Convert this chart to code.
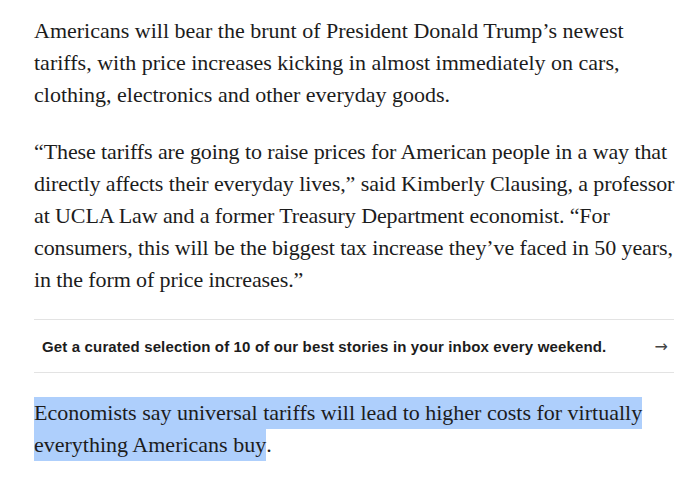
<!DOCTYPE html>
<html>
<head>
<meta charset="utf-8">
<script src="https://cdn.jsdelivr.net/npm/chart.js@4.4.1/dist/chart.umd.min.js"></script>
<style>
  html, body { margin: 0; padding: 0; background: #fff; }
  body { width: 698px; height: 481px; overflow: hidden; }
  .article { padding: 15px 0 0 34px; width: 640px; }
  .article p {
    font-family: "Liberation Serif", "DejaVu Serif", serif;
    font-size: 22px;
    line-height: 32px;
    color: #1c1c1c;
    margin: 0 0 25px 0;
    white-space: nowrap;
  }
  .article p.quote { letter-spacing: -0.1px; margin-bottom: 23px; }
  .signup {
    margin-top: 0;
    height: 52px;
    border-top: 1px solid #e3e3e3;
    border-bottom: 1px solid #e3e3e3;
    display: flex;
    align-items: center;
    justify-content: space-between;
    font-family: "Liberation Sans", Arial, sans-serif;
    font-weight: bold;
    font-size: 15px;
    letter-spacing: 0.15px;
    color: #1c1c1c;
    padding: 0 6px 0 8px;
  }
  .signup .arrow { font-family: "DejaVu Sans", sans-serif; font-weight: normal; font-size: 16px; color: #444; }
  .article p.last { margin-top: 24px; }
  .hl { display: inline-block; background: #aecffc; line-height: 32px; }
</style>
</head>
<body>
<div class="article" id="article"></div>
<script>
// article excerpt, one entry per rendered line
const para1Lines = [
    "Americans will bear the brunt of President Donald Trump\u2019s newest",
    "tariffs, with price increases kicking in almost immediately on cars,",
    "clothing, electronics and other everyday goods."
];
const para2Lines = [
    "\u201cThese tariffs are going to raise prices for American people in a way that",
    "directly affects their everyday lives,\u201d said Kimberly Clausing, a professor",
    "at UCLA Law and a former Treasury Department economist. \u201cFor",
    "consumers, this will be the biggest tax increase they\u2019ve faced in 50 years,",
    "in the form of price increases.\u201d"
];
const signupText = "Get a curated selection of 10 of our best stories in your inbox every weekend.";
const highlightLines = [
    "Economists say universal tariffs will lead to higher costs for virtually",
    "everything Americans buy"
];

const article = document.getElementById('article');

function addParagraph(lines, cls) {
    const p = document.createElement('p');
    if (cls) p.className = cls;
    lines.forEach((line, i) => {
        if (i > 0) p.appendChild(document.createElement('br'));
        p.appendChild(document.createTextNode(line));
    });
    article.appendChild(p);
}

addParagraph(para1Lines);
addParagraph(para2Lines, 'quote');

const signup = document.createElement('div');
signup.className = 'signup';
const signupSpan = document.createElement('span');
signupSpan.textContent = signupText;
const arrow = document.createElement('span');
arrow.className = 'arrow';
arrow.textContent = '\u2192';
signup.appendChild(signupSpan);
signup.appendChild(arrow);
article.appendChild(signup);

// selected (highlighted) sentence
const last = document.createElement('p');
last.className = 'last';
highlightLines.forEach((line, i) => {
    if (i > 0) last.appendChild(document.createElement('br'));
    const hl = document.createElement('span');
    hl.className = 'hl';
    hl.textContent = line;
    last.appendChild(hl);
});
last.appendChild(document.createTextNode('.'));
article.appendChild(last);
</script>
</body>
</html>
